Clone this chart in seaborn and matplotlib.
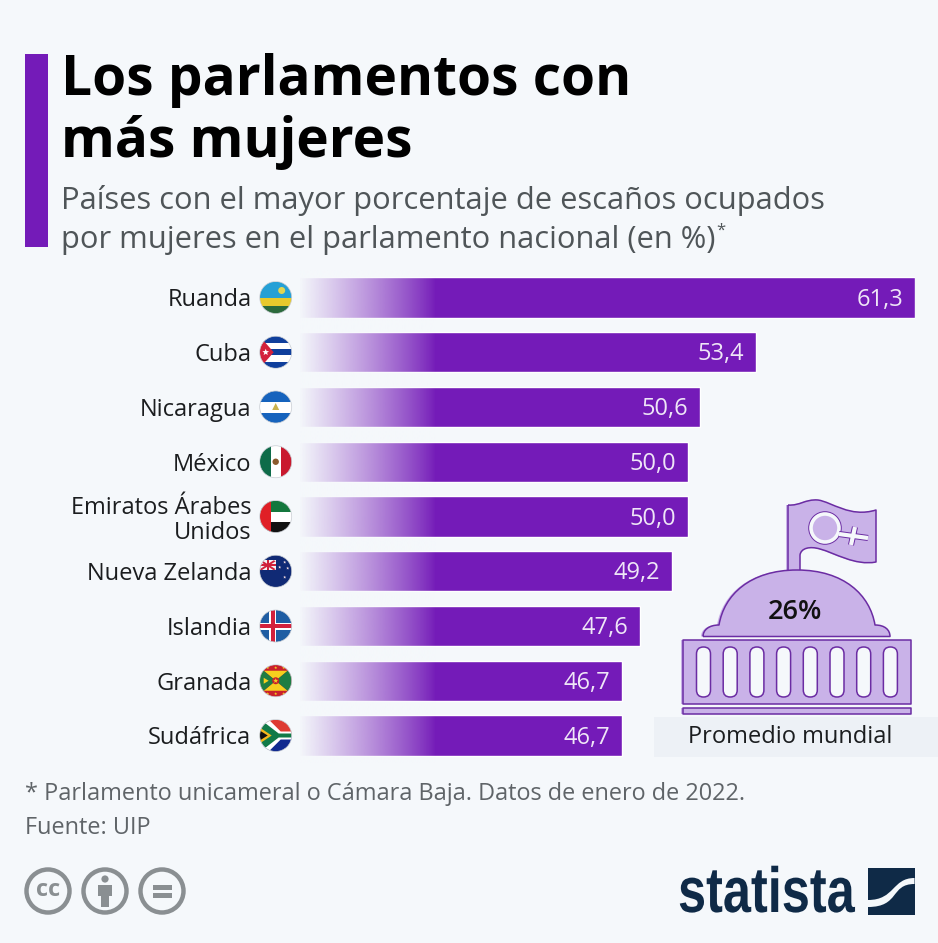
import numpy as np
import pandas as pd
import matplotlib
matplotlib.use("Agg")
import matplotlib.pyplot as plt
import matplotlib.patheffects as pe
from matplotlib.transforms import Affine2D
import seaborn as sns
from matplotlib.patches import Circle, Rectangle, Polygon, FancyBboxPatch, PathPatch
from matplotlib.path import Path

# datos
countries = ["Ruanda", "Cuba", "Nicaragua", "México", "Emiratos Árabes\nUnidos",
             "Nueva Zelanda", "Islandia", "Granada", "Sudáfrica"]
shares = [61.3, 53.4, 50.6, 50.0, 50.0, 49.2, 47.6, 46.7, 46.7]
flag_codes = ["rw", "cu", "ni", "mx", "ae", "nz", "is", "gd", "za"]

BG = "#f5f8fb"
PURPLE = "#741bb8"
LILAC = "#c9b2e8"
LINE = "#6b2ca3"
NAVY = "#0f2a47"
GREY = "#8a8f92"

sns.set_theme(style="white")
plt.rcParams["font.family"] = ["Open Sans", "DejaVu Sans"]

W, H = 938, 943
fig = plt.figure(figsize=(W / 100, H / 100), dpi=100, facecolor=BG)

# ======================
# barras
# ======================
top, step = 297.5, 54.75
ax = fig.add_axes([300 / W, 1 - (top + 8.5 * step) / H, 615 / W, 9 * step / H])
ax.set_facecolor("none")
df = pd.DataFrame({"pais": countries, "valor": shares})
sns.barplot(data=df, x="valor", y="pais", color=PURPLE, saturation=1, width=0.735, ax=ax)
x_min = 30.69
ax.set_xlim(x_min, 61.3)
ax.set_ylim(8.5, -0.5)
ax.set_xlabel("")
ax.set_ylabel("")
ax.set_xticks([])
ax.tick_params(axis="y", length=0, pad=35, labelsize=17, labelcolor="#1b1d1f")
sns.despine(ax=ax, left=True, bottom=True)
for lab in ax.get_yticklabels():
    lab.set_linespacing(1.08)
    lab.set_multialignment("right")

for i, v in enumerate(shares):
    ax.annotate(f"{v:.1f}".replace(".", ","), (v, i), xytext=(-8.5, -1.5), textcoords="offset points",
                ha="right", va="center", color="#efe6f7", fontsize=17)

# degradado al inicio de las barras
rgba = np.zeros((1, 256, 4))
rgba[..., :3] = matplotlib.colors.to_rgb(BG)
rgba[0, :, 3] = np.linspace(1, 0, 256) ** 0.85
ax.imshow(rgba, extent=(x_min, x_min + 135 / 20.09, 8.5, -0.5), aspect="auto", zorder=5)
ax.set_xlim(x_min, 61.3)
ax.set_ylim(8.5, -0.5)

# ======================
# capa en pixeles
# ======================
ov = fig.add_axes([0, 0, 1, 1], zorder=10)
ov.set_xlim(0, W)
ov.set_ylim(H, 0)
ov.axis("off")

ov.add_patch(Rectangle((25, 54), 23, 193, fc=PURPLE, ec="none"))
ov.text(61, 80.5, "Los parlamentos con", fontsize=39.6, fontweight="bold", color="black", va="center")
ov.text(61, 142.5, "más mujeres", fontsize=39.6, fontweight="bold", color="black", va="center")
ov.text(61, 201, "Países con el mayor porcentaje de escaños ocupados", fontsize=22.25, color="#4f5558", va="center")
ov.text(61, 240, "por mujeres en el parlamento nacional (en %)", fontsize=22.25, color="#4f5558", va="center")
ov.text(716, 231, "*", fontsize=12, color="#4f5558", va="center")
ov.text(25, 794, "* Parlamento unicameral o Cámara Baja. Datos de enero de 2022.", fontsize=16.9, color="#5f6468", va="center")
ov.text(25, 828, "Fuente: UIP", fontsize=16.9, color="#5f6468", va="center")


# ======================
# banderas
# ======================
def draw_flag(code, cx, cy, r=16):
    clip = Circle((cx, cy), r, transform=ov.transData)
    arts = []

    def rect(x0, y0, x1, y1, c):
        p = Rectangle((cx + x0, cy + y0), x1 - x0, y1 - y0, fc=c, ec="none")
        arts.append(ov.add_patch(p))

    def poly(pts, c):
        p = Polygon([(cx + a, cy + b) for a, b in pts], closed=True, fc=c, ec="none")
        arts.append(ov.add_patch(p))

    def dot(x, y, rad, c):
        arts.append(ov.add_patch(Circle((cx + x, cy + y), rad, fc=c, ec="none")))

    def star(x, y, rad, c):
        ang = np.deg2rad(np.arange(10) * 36 - 90)
        rr = np.where(np.arange(10) % 2 == 0, rad, rad * 0.42)
        poly(list(zip(x + rr * np.cos(ang), y + rr * np.sin(ang))), c)

    if code == "rw":
        rect(-16, -16, 16, 0, "#25a0d6")
        rect(-16, 0, 16, 8, "#e8c92c")
        rect(-16, 8, 16, 16, "#2b6a3c")
        dot(6, -7, 3.5, "#e2d651")
    elif code == "cu":
        for k, c in enumerate(["#0f3f9c", "white", "#0f3f9c", "white", "#0f3f9c"]):
            rect(-16, -16 + k * 6.4, 16, -16 + (k + 1) * 6.4, c)
        poly([(-16, -16), (-2, 0), (-16, 16)], "#d3213c")
        star(-10, 0, 3.5, "white")
    elif code == "ni":
        rect(-16, -16, 16, -5.5, "#1663bd")
        rect(-16, -5.5, 16, 5.5, "white")
        rect(-16, 5.5, 16, 16, "#1663bd")
        poly([(0, -4), (3.5, 3), (-3.5, 3)], "#c9b24d")
    elif code == "mx":
        rect(-16, -16, -5, 16, "#0e6b49")
        rect(-5, -16, 5.5, 16, "white")
        rect(5.5, -16, 16, 16, "#c9192e")
        dot(0, 0, 3.2, "#8a5a2c")
    elif code == "ae":
        rect(-16, -16, 16, -5, "#14773d")
        rect(-16, -5, 16, 5.5, "white")
        rect(-16, 5.5, 16, 16, "#111111")
        rect(-16, -16, -5, 16, "#e01f26")
    elif code == "nz":
        rect(-16, -16, 16, 16, "#102a75")
        rect(-16, -11, 0, -1, "#f4f2f5")
        poly([(-16, -10), (-14, -11), (0, -2), (-2, -1)], "#d0213c")
        poly([(-16, -2), (-14, -1), (0, -10), (-2, -11)], "#d0213c")
        rect(-16, -7.2, 0, -4.8, "#d0213c")
        rect(-9, -11, -7, -1, "#d0213c")
        for sx, sy in [(9, -9), (4, -4), (12, -3), (9, 6)]:
            star(sx, sy, 1.6, "#f1d8dc")
    elif code == "is":
        rect(-16, -16, 16, 16, "#1f5da3")
        rect(-6.5, -16, 0.5, 16, "white")
        rect(-16, -3.5, 16, 3.5, "white")
        rect(-4.8, -16, -1.2, 16, "#d3213c")
        rect(-16, -1.8, 16, 1.8, "#d3213c")
    elif code == "gd":
        rect(-16, -16, 16, 16, "#c9202c")
        poly([(-12, -10), (12, -10), (0, 0)], "#f6cf1e")
        poly([(-12, 10), (12, 10), (0, 0)], "#f6cf1e")
        poly([(-16, -10), (-12, -10), (0, 0), (-12, 10), (-16, 10)], "#1d7d43")
        poly([(16, -10), (12, -10), (0, 0), (12, 10), (16, 10)], "#1d7d43")
        dot(0, 0, 3.5, "#c9202c")
        star(0, 0, 2.6, "#f6cf1e")
        poly([(-12, -3), (-7, 0), (-12, 3)], "#f6cf1e")
        for sx in [-8, 0, 8]:
            star(sx, -13, 1.6, "#f6cf1e")
            star(sx, 13, 1.6, "#f6cf1e")
    elif code == "za":
        rect(-16, -16, 16, 0, "#de3b32")
        rect(-16, 0, 16, 16, "#10298f")
        poly([(-16, -16), (-7, -16), (5, -4), (16, -4), (16, 4), (5, 4), (-7, 16), (-16, 16)], "white")
        poly([(-16, -12), (-10, -12), (3, -2), (16, -2), (16, 2), (3, 2), (-10, 12), (-16, 12)], "#117a48")
        poly([(-16, -8), (-4, 0), (-16, 8)], "#f4b81c")
        poly([(-16, -5), (-8, 0), (-16, 5)], "#111111")
    for a in arts:
        a.set_clip_path(clip)
    ov.add_patch(Circle((cx, cy), r, fc="none", ec="#c8ccd2", lw=0.5))


for i, code in enumerate(flag_codes):
    draw_flag(code, 275.7, top + i * step)


# ======================
# icono del parlamento
# ======================
def curve(verts, **kw):
    codes = [Path.MOVETO] + [Path.CURVE4] * (len(verts) - 1)
    return ov.add_patch(PathPatch(Path(verts, codes), **kw))


def building(dx, fc, ec, lw):
    kw = dict(fc=fc, ec=ec, lw=lw, joinstyle="round")
    flag = [(788, 505), (800, 506), (805, 499), (818, 500), (832, 502), (850, 518), (876, 510),
            (876, 527), (876, 545), (876, 562), (855, 566), (835, 553), (820, 549), (810, 546), (801, 548), (800, 555),
            (800, 560), (800, 565), (800, 571), (796, 571), (792, 571), (788, 571), (788, 549), (788, 527), (788, 505)]
    curve([(a + dx, b) for a, b in flag], **kw)
    dome = [(703, 636.5), (703, 630), (709, 625), (719, 625), (724, 595), (750, 570), (797, 570),
            (844, 570), (870, 595), (875, 625), (885, 625), (890, 630), (890, 636.5),
            (830, 636.5), (760, 636.5), (703, 636.5)]
    curve([(a + dx, b) for a, b in dome], **kw)
    ov.add_patch(Rectangle((683 + dx, 640), 228, 64, **kw))
    ov.add_patch(Rectangle((683 + dx, 708), 228, 5.5, **kw))


building(-2, LILAC, "none", 0)
building(0, LILAC, LINE, 1.1)
for k in range(8):
    cx = 703.5 + k * 26.7
    ov.add_patch(FancyBboxPatch((cx - 2, 652), 4, 40, boxstyle="round,pad=5,rounding_size=7",
                                fc=BG, ec=LINE, lw=1.1))
# simbolo en la bandera
ov.add_patch(Circle((825, 528), 14, fc=LILAC, ec=LINE, lw=4.0))
ov.add_patch(Circle((825, 528), 14, fc=LILAC, ec=BG, lw=2.6))
for xs, ys in [([839, 868], [534, 538]), ([855, 851], [527, 545])]:
    ov.plot(xs, ys, color=LINE, lw=4.4, solid_capstyle="butt")
for xs, ys in [([839, 868], [534, 538]), ([855, 851], [527, 545])]:
    ov.plot(xs, ys, color=BG, lw=3.0, solid_capstyle="butt")
ov.text(795, 612, "26%", fontsize=19.5, fontweight="semibold", color="#111111", ha="center", va="center")

ov.add_patch(Rectangle((654, 717), 284, 40, fc="#edf1f6", ec="none"))
ov.text(790, 737, "Promedio mundial", fontsize=17, color="#1b1d1f", ha="center", va="center")

# ======================
# licencia y logo
# ======================
for x in [48, 105, 162]:
    ov.add_patch(Circle((x, 891), 21.5, fc="none", ec=GREY, lw=3.2))
ov.text(48, 890, "cc", fontsize=17, fontweight="bold", color=GREY, ha="center", va="center")
ov.add_patch(Circle((105, 879), 3.6, fc=GREY, ec="none"))
ov.add_patch(Polygon([(98, 885), (112, 885), (112, 896), (109, 896), (109, 907), (101, 907), (101, 896), (98, 896)],
                     closed=True, fc=GREY, ec="none"))
ov.add_patch(Rectangle((153, 885), 19, 4.5, fc=GREY, ec="none"))
ov.add_patch(Rectangle((153, 893), 19, 4.5, fc=GREY, ec="none"))


class Squeeze(pe.AbstractPathEffect):
    # estrecha el texto en horizontal, el logo es mas condensado que la fuente
    def __init__(self, sx, x0):
        super().__init__()
        self.sx, self.x0 = sx, x0

    def draw_path(self, renderer, gc, tpath, affine, rgbFace=None):
        squeeze = Affine2D().translate(-self.x0, 0).scale(self.sx, 1).translate(self.x0, 0)
        renderer.draw_path(gc, tpath, affine + squeeze, rgbFace)


ov.text(678, 895, "statista", fontsize=46, fontweight="bold", color=NAVY, va="center",
        family=["Liberation Sans", "DejaVu Sans"], path_effects=[Squeeze(0.79, 678)])
ov.add_patch(Rectangle((868, 868), 46.5, 46.5, fc=NAVY, ec="none"))
curve([(914.5, 878), (892, 878), (895, 900), (868, 900),
       (868, 902), (868, 905), (868, 907),
       (900, 907), (890, 884), (914.5, 884),
       (914.5, 882), (914.5, 880), (914.5, 878)], fc=BG, ec="none")

fig.savefig("out.png", dpi=100, facecolor=BG)
